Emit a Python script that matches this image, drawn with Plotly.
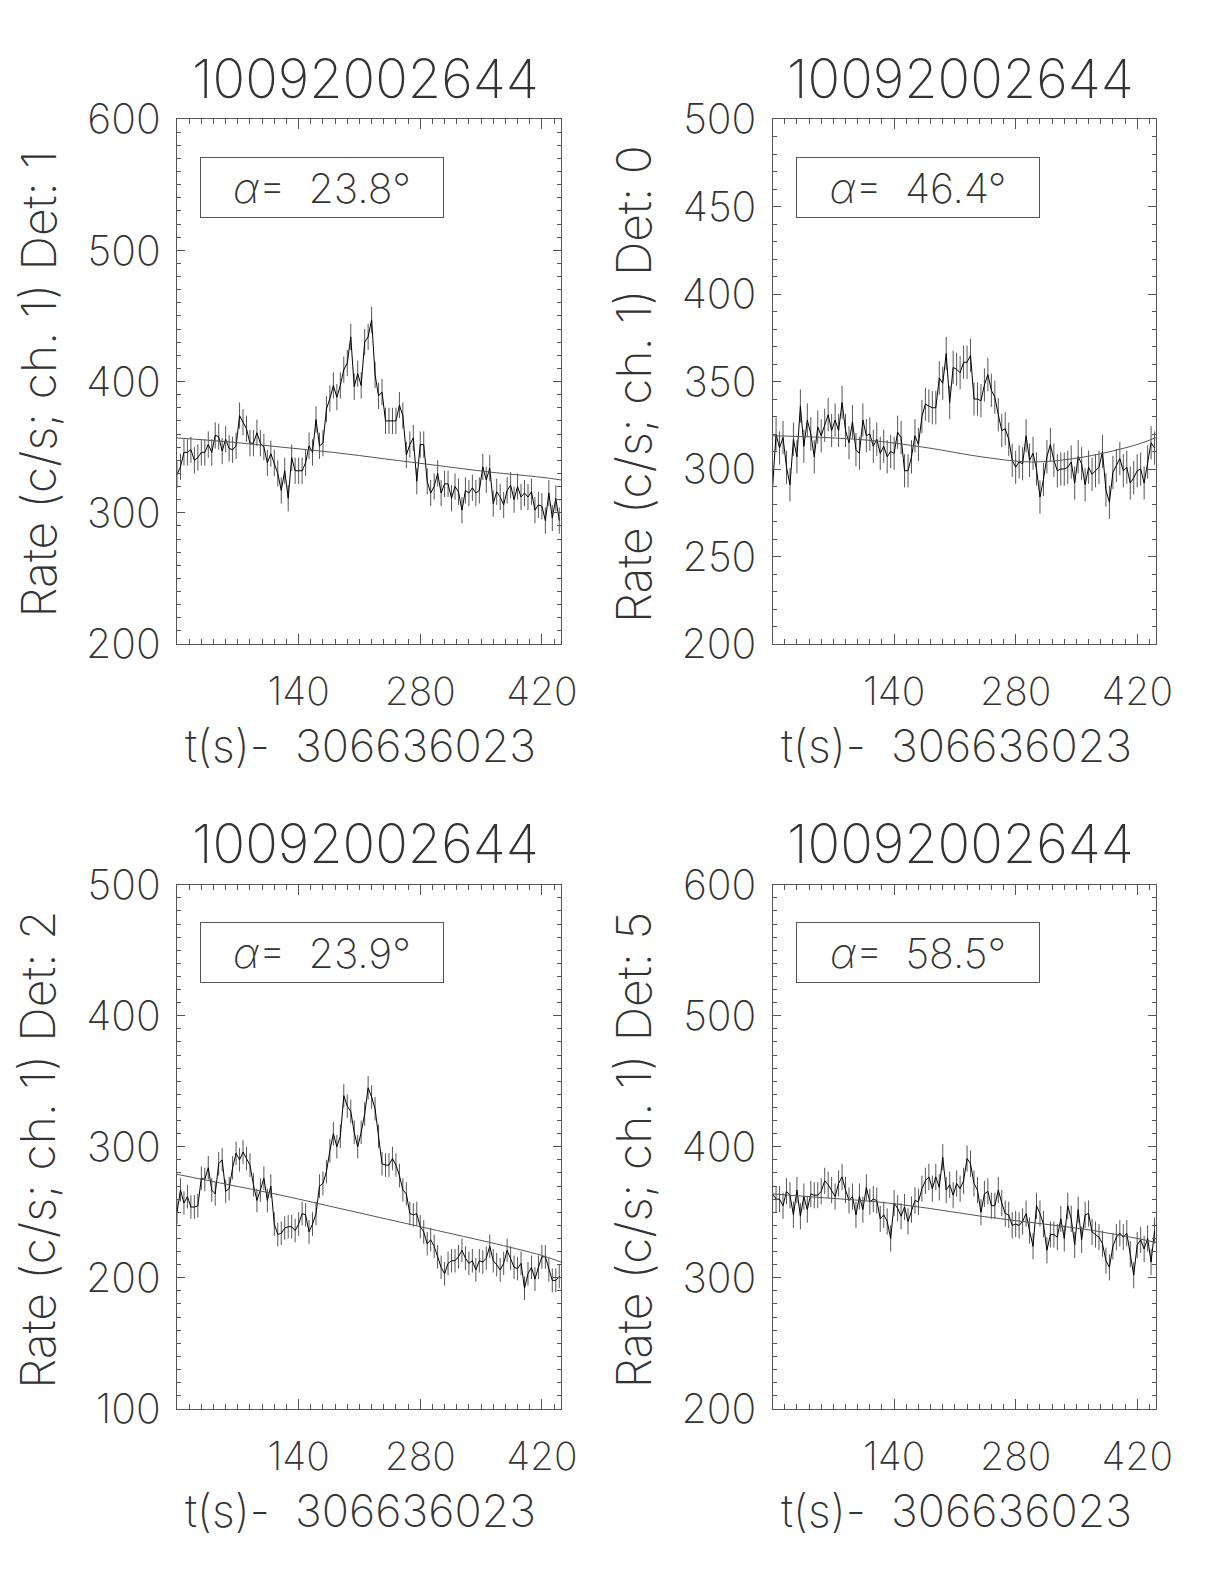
import plotly.graph_objects as go

# ---------------- data ----------------
time_s = [4 * i for i in range(111)]  # bin centres (s) relative to 306636023

rate_det1 = [329, 335, 346, 346, 348, 340, 342, 346, 346, 352, 346, 359, 358, 347, 356, 349, 348, 351, 374, 369,
             364, 353, 353, 361, 353, 350, 338, 345, 338, 330, 317, 332, 311, 342, 332, 332, 332, 338, 351, 346,
             371, 351, 353, 379, 387, 397, 388, 397, 409, 414, 434, 396, 406, 397, 430, 434, 447, 405, 389, 392,
             370, 370, 370, 370, 382, 374, 344, 352, 357, 324, 352, 352, 324, 315, 320, 330, 315, 322, 322, 311,
             320, 316, 302, 317, 315, 319, 315, 317, 335, 325, 334, 307, 316, 312, 306, 317, 321, 310, 320, 312,
             315, 312, 316, 302, 306, 305, 294, 315, 296, 311, 294]
rate_det0 = [290, 320, 312, 318, 301, 291, 317, 307, 336, 313, 328, 320, 307, 324, 319, 325, 331, 322, 328, 322,
             338, 322, 315, 327, 311, 309, 328, 319, 320, 313, 317, 309, 313, 307, 310, 309, 321, 318, 299, 299,
             307, 319, 314, 330, 337, 336, 335, 335, 352, 349, 366, 338, 358, 357, 355, 361, 361, 365, 340, 340,
             339, 348, 354, 345, 341, 331, 322, 323, 317, 305, 301, 304, 303, 319, 305, 309, 300, 284, 294, 307,
             314, 305, 299, 300, 300, 301, 304, 292, 307, 303, 291, 301, 297, 299, 301, 310, 288, 281, 298, 302,
             306, 299, 301, 292, 295, 299, 300, 292, 304, 315, 312]
rate_det2 = [250, 267, 257, 262, 254, 254, 255, 276, 275, 284, 267, 264, 287, 290, 266, 268, 284, 295, 290, 296,
             291, 286, 271, 259, 267, 276, 259, 270, 241, 233, 234, 238, 239, 239, 236, 241, 249, 248, 235, 241,
             249, 270, 272, 281, 297, 310, 300, 308, 339, 331, 327, 311, 300, 311, 325, 345, 338, 329, 308, 287,
             286, 286, 291, 286, 278, 267, 264, 249, 248, 249, 239, 235, 226, 229, 224, 216, 208, 203, 211, 213,
             213, 216, 221, 215, 211, 213, 206, 213, 212, 215, 224, 213, 210, 206, 211, 221, 215, 208, 207, 211,
             192, 203, 208, 199, 208, 216, 216, 206, 198, 198, 201]
rate_det5 = [364, 360, 360, 355, 366, 363, 348, 367, 347, 362, 352, 364, 363, 363, 366, 374, 371, 367, 362, 372,
             377, 367, 359, 362, 348, 362, 352, 369, 358, 360, 359, 345, 348, 343, 330, 357, 353, 347, 354, 343,
             352, 359, 358, 368, 374, 377, 368, 377, 369, 392, 367, 371, 363, 372, 368, 374, 391, 387, 372, 367,
             350, 364, 366, 355, 355, 367, 357, 349, 348, 340, 341, 340, 343, 349, 336, 324, 355, 349, 341, 321,
             333, 333, 331, 345, 330, 355, 345, 325, 352, 329, 348, 349, 335, 333, 331, 326, 313, 308, 324, 331,
             334, 331, 334, 318, 302, 325, 329, 322, 330, 312, 336]

# background fit curves read at a few times
bg_time = [0, 60, 120, 180, 240, 300, 360, 420, 442]
bg_det1 = [357, 354, 350, 346, 341, 336, 331, 327, 325]
bg_det0 = [319, 318, 316, 312, 307, 304, 307, 314, 318]
bg_det2 = [279, 271, 263, 254, 245, 236, 227, 217, 212]
bg_det5 = [364, 361, 358, 353, 347, 342, 337, 330, 327]

err_det = [10, 9.5, 9, 10]  # typical 1-sigma error per panel

alpha_deg = ["23.8", "46.4", "23.9", "58.5"]
det_names = ["1", "0", "2", "5"]
obs_id = "10092002644"
t0_label = "t(s)-  306636023"
x_ticks = [140, 280, 420]
y_ranges = [[200, 600], [200, 500], [100, 500], [200, 600]]
y_dticks = [100, 50, 100, 100]

# ---------------- layout ----------------
W, H = 1224, 1584
OFF = 8  # page body margin
FONT = "Inter, Roboto, DejaVu Sans, sans-serif"
WT = 200
TXT = "#333333"
AX = "#555555"

# panel boxes in page pixels (left, right, top, bottom)
boxes = [(177, 561, 119, 644), (772.6, 1156.3, 119, 644),
         (177, 561, 884.7, 1408.8), (772.6, 1156.3, 884.7, 1408.8)]

rates = [rate_det1, rate_det0, rate_det2, rate_det5]
bgs = [bg_det1, bg_det0, bg_det2, bg_det5]

fig = go.Figure()
annotations = []


def px(x):
    return (x - OFF) / W


def py(y):
    return 1 - (y - OFF) / H


for k in range(4):
    xa = "x" if k == 0 else f"x{k+1}"
    ya = "y" if k == 0 else f"y{k+1}"
    l, r, t, b = boxes[k]
    fig.add_trace(go.Scatter(
        x=time_s, y=rates[k], mode="lines",
        line=dict(color="#000000", width=1),
        error_y=dict(type="constant", value=err_det[k], color="#555555", thickness=1, width=0),
        xaxis=xa, yaxis=ya, showlegend=False, hoverinfo="skip"))
    fig.add_trace(go.Scatter(
        x=bg_time, y=bgs[k], mode="lines", line=dict(color="#555555", width=1, shape="spline"),
        xaxis=xa, yaxis=ya, showlegend=False, hoverinfo="skip"))

    xkey = "xaxis" if k == 0 else f"xaxis{k+1}"
    ykey = "yaxis" if k == 0 else f"yaxis{k+1}"
    fig.update_layout(**{
        xkey: dict(domain=[px(l), px(r)], anchor=ya, range=[0, 442],
                   tickvals=x_ticks, ticks="inside", ticklen=10, tickcolor=AX,
                   minor=dict(dtick=14, tick0=0, ticks="inside", ticklen=5, tickcolor=AX),
                   showline=True, linecolor=AX, linewidth=1, mirror="ticks",
                   showgrid=False, zeroline=False, ticklabelstandoff=13, automargin=False,
                   tickfont=dict(family=FONT, size=39, color=TXT, weight=WT)),
        ykey: dict(domain=[py(b), py(t)], anchor=xa, range=y_ranges[k],
                   dtick=y_dticks[k], tick0=0, ticks="inside", ticklen=8, tickcolor=AX,
                   minor=dict(dtick=10, tick0=0, ticks="inside", ticklen=4, tickcolor=AX),
                   showline=True, linecolor=AX, linewidth=1, mirror="ticks",
                   showgrid=False, zeroline=False, ticklabelstandoff=7, automargin=False,
                   tickfont=dict(family=FONT, size=41, color=TXT, weight=WT)),
    })

    cx = (l + r) / 2
    # title
    annotations.append(dict(text=obs_id, x=px(cx - 4), y=py(t - 41), xref="paper", yref="paper",
                            showarrow=False, xanchor="center", yanchor="middle",
                            font=dict(family=FONT, size=54, color=TXT, weight=WT)))
    # x title
    annotations.append(dict(text=t0_label, x=px(cx - 8), y=py(b + 102), xref="paper", yref="paper",
                            showarrow=False, xanchor="center", yanchor="middle",
                            font=dict(family=FONT, size=45, color=TXT, weight=WT)))
    # y title
    annotations.append(dict(text=f"Rate (c/s; ch. 1) Det: {det_names[k]}", x=px(l - 139), y=py((t + b) / 2 + 3),
                            xref="paper", yref="paper", textangle=-90,
                            showarrow=False, xanchor="center", yanchor="middle",
                            font=dict(family=FONT, size=48, color=TXT, weight=WT)))
    # alpha box
    annotations.append(dict(text=f"<i>α</i>=  {alpha_deg[k]}°", x=px(l + 145), y=py(t + 68),
                            xref="paper", yref="paper", showarrow=False,
                            xanchor="center", yanchor="middle", width=242, height=59,
                            bordercolor=AX, borderwidth=1, borderpad=0,
                            font=dict(family=FONT, size=41, color=TXT, weight=WT)))

fig.update_layout(width=W, height=H, autosize=False,
                  margin=dict(l=0, r=0, t=0, b=0, autoexpand=False),
                  paper_bgcolor="white", plot_bgcolor="white",
                  annotations=annotations)

fig.write_html("out.html")
